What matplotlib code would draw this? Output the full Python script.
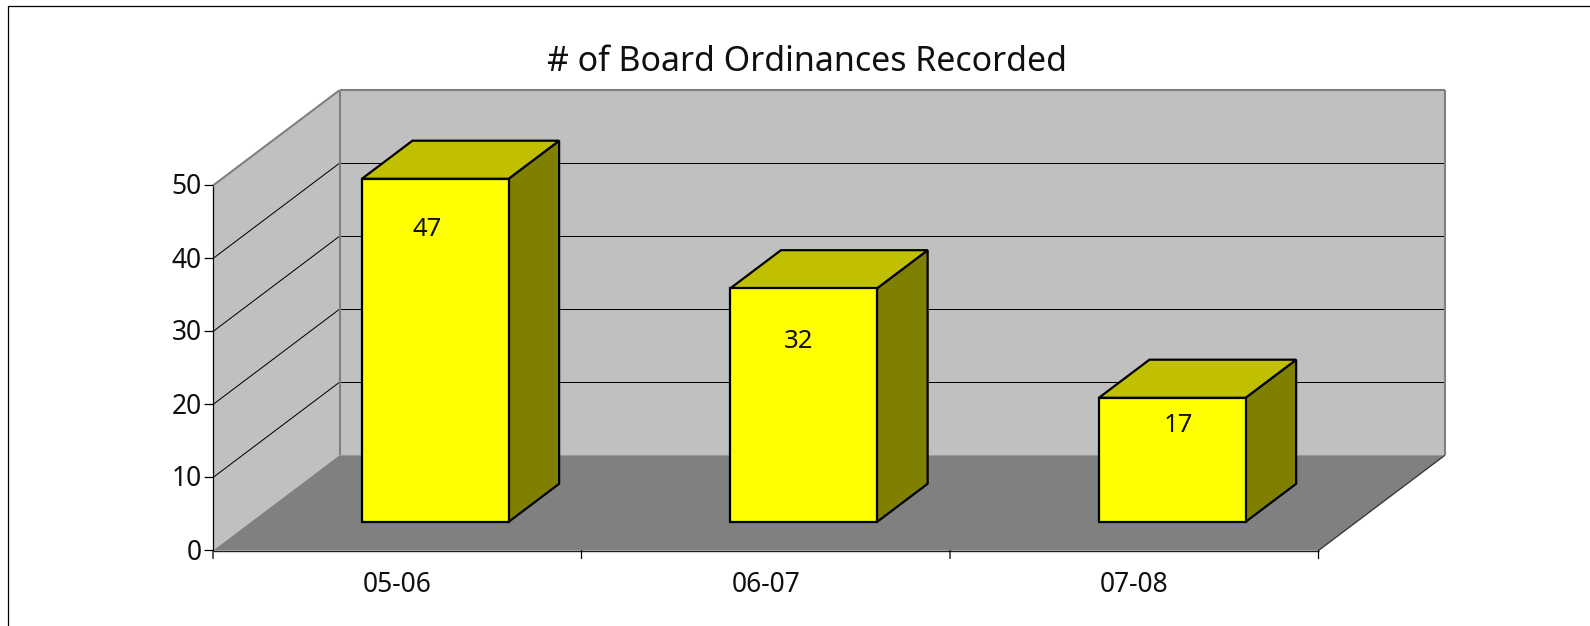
import matplotlib
matplotlib.use('Agg')
import matplotlib.pyplot as plt
from matplotlib.patches import Polygon

# Data
categories = ['05-06', '06-07', '07-08']
values = [47, 32, 17]
y_ticks = [0, 10, 20, 30, 40, 50]

plt.rcParams['font.family'] = ['Noto Sans', 'DejaVu Sans']

W, H = 1590, 626
fig = plt.figure(figsize=(W / 100, H / 100), dpi=100)

# front plane of the chart box, in pixels
left, right, bottom, top = 213, 1318.5, 550.5, 185.5
ax = fig.add_axes([left / W, 1 - bottom / H, (right - left) / W, (bottom - top) / H])
ax.set_xlim(0, 3)
ax.set_ylim(0, 50)
ax.axis('off')

# how far the back of the box is shifted, in data units
depth_x = 126.5 / 368.5
depth_y = 95.3 / 7.3


def pt(x, y, d=0):
    return (x + d * depth_x, y + d * depth_y)


def poly(points, fc, ec='none', lw=0, z=1):
    ax.add_patch(Polygon(points, closed=True, facecolor=fc, edgecolor=ec, linewidth=lw,
                         joinstyle='miter', clip_on=False, zorder=z))


def line(a, b, color='black', lw=0.72, z=2):
    ax.plot([a[0], b[0]], [a[1], b[1]], color=color, lw=lw, clip_on=False, zorder=z,
            solid_capstyle='butt')


# Walls and floor
poly([pt(0, 0, 1), pt(3, 0, 1), pt(3, 50, 1), pt(0, 50, 1)], '#c0c0c0')
poly([pt(0, 0), pt(0, 0, 1), pt(0, 50, 1), pt(0, 50)], '#c0c0c0')
poly([pt(0, 0), pt(3, 0), pt(3, 0, 1), pt(0, 0, 1)], '#808080')

# Gridlines
for v in y_ticks[1:-1]:
    line(pt(0, v), pt(0, v, 1))
    line(pt(0, v, 1), pt(3, v, 1))

# Wall borders
gray = '#808080'
line(pt(0, 50), pt(0, 50, 1), gray, 1.5)
line(pt(0, 50, 1), pt(3, 50, 1), gray, 1.5)
line(pt(3, 50, 1), pt(3, 0, 1), gray, 1.5)
line(pt(0, 50, 1), pt(0, 0, 1), gray, 1.5)
line(pt(3, 0), pt(3, 0, 1), '#303030', 0.9)

# Bars
label_dx = [-8, -5, 6]
label_dy = [-51, -53, -28]
for i, v in enumerate(values):
    x0, x1 = i + 0.301, i + 0.699
    d0, d1 = 0.3, 0.7
    poly([pt(x1, 0, d0), pt(x1, 0, d1), pt(x1, v, d1), pt(x1, v, d0)], '#808000', 'black', 1.6, 3)
    poly([pt(x0, v, d0), pt(x1, v, d0), pt(x1, v, d1), pt(x0, v, d1)], '#c0c000', 'black', 1.6, 3)
    poly([pt(x0, 0, d0), pt(x1, 0, d0), pt(x1, v, d0), pt(x0, v, d0)], '#ffff00', 'black', 1.6, 4)
    ax.annotate(str(v), xy=pt((x0 + x1) / 2, v, d0), xytext=(label_dx[i] * 0.72, label_dy[i] * 0.72),
                textcoords='offset points', ha='center', va='center', fontsize=18.5,
                color='#101010', zorder=5, annotation_clip=False)

# Axes lines and ticks
line(pt(0, 0), pt(0, 50), 'black', 0.9, 2)
line(pt(0, 0), pt(3, 0), '#202020', 1.0, 2)
ax.set_xticks([])
for v in y_ticks:
    ax.annotate('', xy=(0, v), xytext=(-8, 0), textcoords='offset pixels',
                arrowprops=dict(arrowstyle='-', lw=0.9, color='black', shrinkA=0, shrinkB=0),
                annotation_clip=False)
    ax.annotate(str(v), xy=(0, v), xytext=(-11, -2), textcoords='offset pixels', ha='right',
                va='center', fontsize=19, color='#101010', annotation_clip=False)
for i in range(len(categories) + 1):
    ax.annotate('', xy=(i, 0), xytext=(0, -8), textcoords='offset pixels',
                arrowprops=dict(arrowstyle='-', lw=0.9, color='black', shrinkA=0, shrinkB=0),
                annotation_clip=False)
for i, c in enumerate(categories):
    ax.annotate(c, xy=(i + 0.5, 0), xytext=(0, -34), textcoords='offset pixels', ha='center',
                va='center', fontsize=19, color='#101010', annotation_clip=False)

# Title and outer frame
fig.text(807 / W, 1 - 62 / H, '# of Board Ordinances Recorded', ha='center', va='center',
         fontsize=24.4, color='#101010')
fig.add_artist(plt.Line2D([8 / W, 8 / W, 1], [0, 1 - 5.5 / H, 1 - 5.5 / H],
                          color='black', lw=0.9, transform=fig.transFigure))

fig.savefig('out.png', dpi=100, facecolor='white')
